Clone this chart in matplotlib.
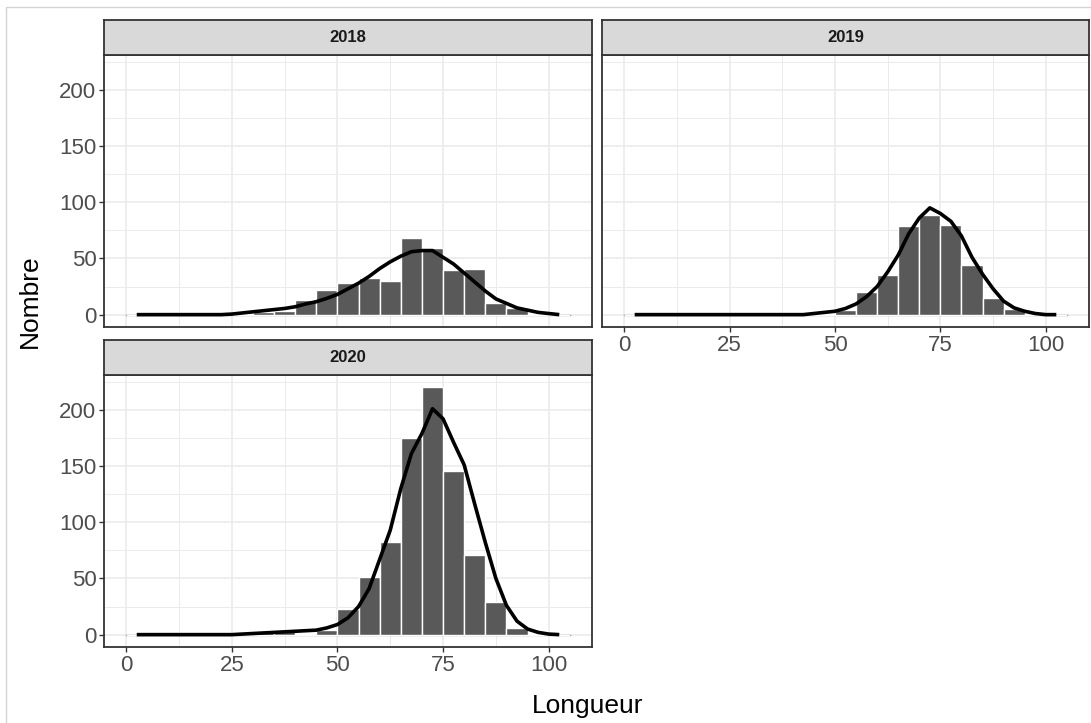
import matplotlib
matplotlib.use("Agg")
import matplotlib.pyplot as plt
from matplotlib import font_manager
from matplotlib.patches import Rectangle
import numpy as np

# ---- data -------------------------------------------------------------
years = ["2018", "2019", "2020"]

# histogram bins of width 5 on Longueur, 0 .. 105
bin_edges = list(range(0, 110, 5))
bin_centers = [e + 2.5 for e in bin_edges[:-1]]

counts_2018 = [0, 0, 0, 0, 0, 1, 2, 3, 13, 22, 28, 33, 30, 68, 59, 40, 41, 10, 6, 1, 0]
counts_2019 = [0, 0, 0, 0, 0, 0, 0, 0, 0, 1, 4, 20, 35, 79, 89, 80, 44, 15, 5, 1, 0]
counts_2020 = [0, 0, 0, 0, 0, 0, 2, 3, 1, 4, 23, 51, 82, 175, 220, 146, 71, 29, 6, 1, 0]

# fitted curve, evaluated every 2.5 units from 2.5 to 102.5
curve_x = [2.5 * k for k in range(1, 42)]
curve_2018 = [0, 0, 0, 0, 0, 0, 0, 0, 0,
              0.5, 1.5, 2.5, 3.5, 4.5, 5.5, 7, 9.5, 11.5, 14.5, 18, 23, 28, 34, 41,
              47, 52, 56, 57, 57, 51, 45, 37, 29, 21, 14, 10, 6, 4, 2, 1, 0]
curve_2019 = [0] * 17 + [1, 2, 3, 5.5, 9.5, 16, 25, 38, 53, 72, 86, 95, 90, 83, 70,
                         51, 36, 23, 12, 6, 3, 1, 0, 0]
curve_2020 = [0] * 10 + [0.5, 1, 1.5, 2, 2.5, 3, 3.5, 4, 6, 9, 15, 25, 41, 67, 93, 130,
                         161, 179, 201, 192, 171, 151, 116, 82, 50, 26, 12, 5, 2, 0.5, 0]

x_ticks = [0, 25, 50, 75, 100]
y_ticks = [0, 50, 100, 150, 200]

counts = {"2018": counts_2018, "2019": counts_2019, "2020": counts_2020}
curves = {"2018": curve_2018, "2019": curve_2019, "2020": curve_2020}

# ---- fonts ------------------------------------------------------------
installed = {f.name for f in font_manager.fontManager.ttflist}
base = "Liberation Sans Narrow" if "Liberation Sans Narrow" in installed else "Liberation Sans"
plt.rcParams["font.family"] = [base, "DejaVu Sans"]

# ---- figure -----------------------------------------------------------
W, H = 1091, 723
fig = plt.figure(figsize=(W / 100, H / 100), dpi=100)
fig.patch.set_facecolor("white")

# thin outer frame
fig.add_artist(Rectangle((6 / W, -0.1), 1.2, 1 - 7 / H + 0.1, transform=fig.transFigure,
                         fill=False, edgecolor="#D4D4D4", lw=1.0))


def px_axes(l, t, r, b):
    return fig.add_axes([l / W, 1 - b / H, (r - l) / W, (b - t) / H])


panels = {
    "2018": (104, 55, 592, 327, 20),
    "2019": (602, 55, 1089, 327, 20),
    "2020": (104, 375, 592, 647, 340),
}

ymax = max(max(c) for c in counts.values())
ypad = 0.05 * ymax
xlo, xhi = bin_edges[0], bin_edges[-1]
xpad = 0.05 * (xhi - xlo)

fill = "#595959"
border = "#333333"
gridc = "#EBEBEB"

for yr in years:
    l, t, r, b, st = panels[yr]
    ax = px_axes(l, t, r, b)
    ax.set_xlim(xlo - xpad, xhi + xpad)
    ax.set_ylim(-ypad, ymax + ypad)
    ax.set_xticks(x_ticks)
    ax.set_yticks(y_ticks)
    ax.set_xticks([12.5, 37.5, 62.5, 87.5], minor=True)
    ax.set_yticks([25, 75, 125, 175, 225], minor=True)
    ax.grid(True, which="major", color=gridc, lw=1.2)
    ax.grid(True, which="minor", color=gridc, lw=0.7)
    ax.set_axisbelow(True)
    for s in ax.spines.values():
        s.set_color(border)
        s.set_linewidth(1.3)
    ax.tick_params(which="minor", length=0)
    ax.tick_params(which="major", length=3.5, width=1.0, color=border,
                   labelcolor="#4D4D4D", labelsize=16, pad=2)

    # zero-count bins show as a thin line along the baseline
    ax.plot([xlo, xhi], [0, 0], color=fill, lw=0.9, zorder=2)
    ax.bar(bin_centers, counts[yr], width=5, color=fill, edgecolor="white",
           linewidth=1.0, zorder=3)
    ax.plot(curve_x, curves[yr], color="black", lw=2.6, zorder=4,
            solid_joinstyle="round", solid_capstyle="butt")

    if yr == "2018":
        ax.tick_params(axis="x", length=0, labelbottom=False)
    if yr == "2019":
        ax.tick_params(axis="y", length=0, labelleft=False)

    # facet strip
    sax = px_axes(l, st, r, t)
    sax.set_facecolor("#D9D9D9")
    sax.set_xticks([])
    sax.set_yticks([])
    for s in sax.spines.values():
        s.set_color(border)
        s.set_linewidth(1.3)
    sax.text(0.5, 0.5, yr, ha="center", va="center", fontsize=12,
             fontweight="bold", color="#1A1A1A", transform=sax.transAxes)

fig.text(588 / W, 1 - 706 / H, "Longueur", ha="center", va="center",
         fontsize=19, color="black")
fig.text(30 / W, 1 - 301 / H, "Nombre", ha="center", va="center",
         rotation=90, fontsize=19, color="black")

fig.savefig("out.png", dpi=100, facecolor="white")
